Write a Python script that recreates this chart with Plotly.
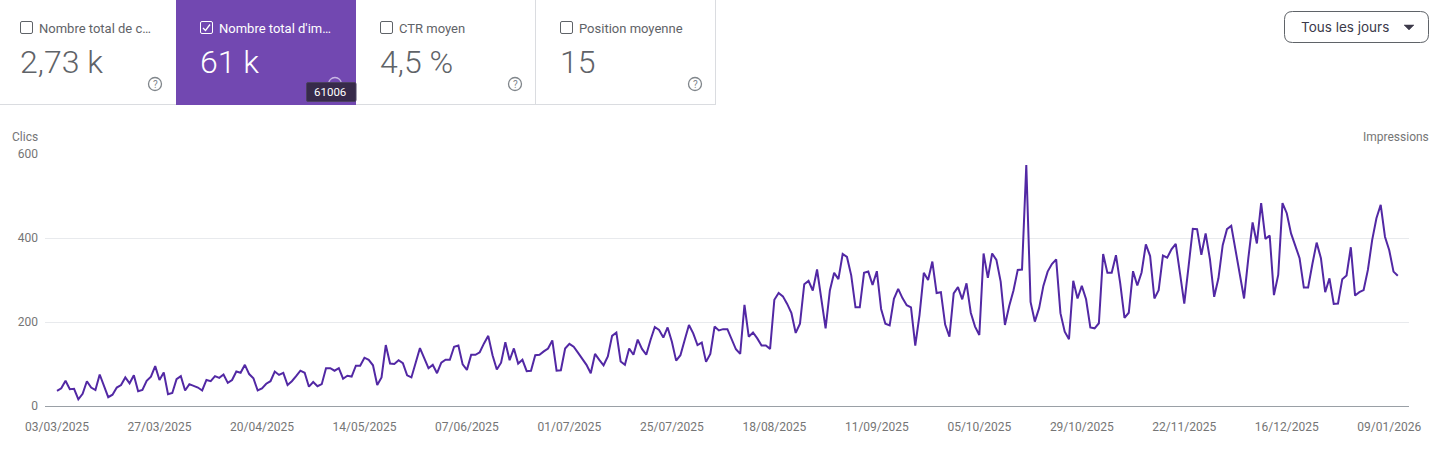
import pandas as pd
import plotly.graph_objects as go

impressions = [
    36, 42, 60, 40, 41, 16, 29, 59, 44, 38, 75, 49, 21, 27, 44, 50, 68, 54, 73, 35,
    38, 60, 70, 95, 62, 80, 28, 31, 64, 71, 37, 52, 48, 44, 37, 62, 59, 71, 67, 75,
    55, 62, 82, 79, 98, 76, 66, 37, 42, 53, 59, 82, 74, 79, 50, 59, 71, 84, 79, 46,
    57, 47, 52, 90, 90, 84, 90, 65, 72, 70, 96, 96, 115, 110, 97, 50, 68, 145, 101, 100,
    109, 102, 73, 68, 103, 138, 114, 90, 98, 78, 103, 110, 110, 141, 144, 99, 86, 122, 122, 128,
    149, 167, 121, 87, 103, 152, 109, 137, 101, 110, 83, 84, 121, 122, 130, 137, 156, 84, 85, 137,
    148, 141, 127, 113, 98, 78, 124, 110, 97, 118, 167, 175, 106, 98, 137, 122, 158, 136, 122, 157,
    188, 181, 163, 187, 153, 108, 121, 157, 193, 173, 145, 151, 105, 124, 189, 180, 183, 183, 157, 135,
    124, 241, 165, 175, 161, 144, 144, 136, 253, 269, 261, 243, 221, 174, 196, 290, 298, 275, 325, 256,
    185, 275, 317, 302, 362, 355, 311, 235, 235, 317, 320, 288, 321, 231, 196, 192, 255, 279, 257, 240,
    235, 144, 217, 317, 300, 344, 269, 271, 194, 165, 268, 283, 254, 292, 222, 189, 169, 363, 305, 363,
    348, 296, 193, 238, 275, 324, 325, 574, 248, 201, 233, 286, 320, 338, 349, 221, 177, 159, 298, 256,
    286, 254, 187, 185, 197, 362, 317, 317, 359, 292, 210, 222, 321, 287, 318, 385, 357, 256, 276, 358,
    353, 373, 386, 316, 244, 332, 422, 421, 360, 411, 350, 260, 304, 383, 421, 429, 371, 308, 256, 352,
    437, 387, 483, 398, 406, 264, 312, 483, 459, 411, 383, 352, 282, 282, 338, 389, 352, 271, 304, 243,
    244, 302, 311, 378, 263, 271, 276, 324, 395, 447, 479, 403, 371, 320, 310,
]
tick_dates = ["2025-03-03", "2025-03-27", "2025-04-20", "2025-05-14", "2025-06-07", "2025-07-01", "2025-07-25",
              "2025-08-18", "2025-09-11", "2025-10-05", "2025-10-29", "2025-11-22", "2025-12-16", "2026-01-09"]
tick_labels = ["03/03/2025", "27/03/2025", "20/04/2025", "14/05/2025", "07/06/2025", "01/07/2025", "25/07/2025",
               "18/08/2025", "11/09/2025", "05/10/2025", "29/10/2025", "22/11/2025", "16/12/2025", "09/01/2026"]
y_ticks = [0, 200, 400, 600]

card_titles = ["Nombre total de c…", "Nombre total d'im…", "CTR moyen", "Position moyenne"]
card_values = ["2,73 k", "61 k", "4,5 %", "15"]

dates = pd.date_range("2025-03-03", periods=len(impressions), freq="D")

GREY = "#5f6368"
TICK = "#757575"
PURPLE = "#7248b1"
LINE = "#5228a4"

# plot area in page pixels, everything around the chart is placed from these
L, R, T, B = 45, 1409, 154, 406


def px(x):
    return (x - L) / (R - L)


def py(y):
    return (B - y) / (B - T)


def rect(x0, y0, x1, y1, fill="rgba(0,0,0,0)", line=None, width=1):
    return dict(type="rect", xref="paper", yref="paper", x0=px(x0), x1=px(x1), y0=py(y0), y1=py(y1),
                fillcolor=fill, line=dict(color=line, width=width if line else 0), layer="above")


def round_rect(x0, y0, x1, y1, r, fill="rgba(0,0,0,0)", line=None, width=1):
    p = (f"M{px(x0 + r)},{py(y0)} L{px(x1 - r)},{py(y0)} Q{px(x1)},{py(y0)} {px(x1)},{py(y0 + r)} "
         f"L{px(x1)},{py(y1 - r)} Q{px(x1)},{py(y1)} {px(x1 - r)},{py(y1)} "
         f"L{px(x0 + r)},{py(y1)} Q{px(x0)},{py(y1)} {px(x0)},{py(y1 - r)} "
         f"L{px(x0)},{py(y0 + r)} Q{px(x0)},{py(y0)} {px(x0 + r)},{py(y0)} Z")
    return dict(type="path", xref="paper", yref="paper", path=p, fillcolor=fill,
                line=dict(color=line, width=width), layer="above")


def poly(points, fill="rgba(0,0,0,0)", line=None, width=1, close=False):
    p = "M" + " L".join(f"{px(x)},{py(y)}" for x, y in points) + (" Z" if close else "")
    return dict(type="path", xref="paper", yref="paper", path=p, fillcolor=fill,
                line=dict(color=line, width=width), layer="above")


def label(x, y, text, size, color=GREY, anchor="left", family="Roboto", weight=400):
    # annotations sit 2px inside their anchor
    shift = {"left": -2, "right": 2, "center": 0}[anchor]
    return dict(xref="paper", yref="paper", x=px(x), y=py(y), text=text, showarrow=False, xanchor=anchor,
                yanchor="middle", xshift=shift, font=dict(size=size, color=color, family=family, weight=weight))


fig = go.Figure()
fig.add_trace(go.Scatter(x=dates, y=impressions, mode="lines", line=dict(color=LINE, width=2), hoverinfo="skip"))

shapes = []
annotations = []

# cards
shapes.append(rect(176, 0, 356, 105, fill=PURPLE))
shapes.append(rect(0, 104, 176, 105, fill="#dadce0"))
shapes.append(rect(356, 104, 716, 105, fill="#dadce0"))
shapes.append(rect(535, 0, 536, 105, fill="#dadce0"))
shapes.append(rect(715, 0, 716, 105, fill="#dadce0"))

card_x = [20, 200, 380, 560]
for i, (title, value) in enumerate(zip(card_titles, card_values)):
    x = card_x[i]
    color = "#ffffff" if i == 1 else GREY
    shapes.append(round_rect(x + 0.5, 21.5, x + 12.5, 33.5, 1.5, line=color))
    annotations.append(label(x + 19, 28, title, 13, color))
    annotations.append(label(x, 62, value, 32, color, weight=300))
    shapes.append(dict(type="circle", xref="paper", yref="paper", x0=px(x + 128.5), x1=px(x + 141.5),
                       y0=py(77.5), y1=py(90.5), line=dict(color="#c9b8e4" if i == 1 else "#80868b", width=1.3),
                       layer="above"))
    if i != 1:
        annotations.append(label(x + 135, 84.5, "?", 10, "#80868b", "center"))
shapes.append(poly([(203, 28), (205.5, 30.5), (210, 24.5)], line="#ffffff", width=1.3))

# tooltip of the selected card
shapes.append(round_rect(306.5, 82.5, 356, 101.5, 1.5, fill="#372a4a", line="#4b4060"))
annotations.append(label(330, 92, "61006", 11.5, "#ffffff", "center"))

# period button
shapes.append(round_rect(1284.5, 11.5, 1428.5, 42.5, 8, fill="#ffffff", line=GREY))
annotations.append(label(1301, 27, "Tous les jours", 13.5, "#3c3a4a", family="Inter"))
shapes.append(poly([(1404, 25), (1414, 25), (1409, 30)], fill="#3c3a4a", line="#3c3a4a", width=0.5, close=True))

# axis titles
annotations.append(label(12, 137, "Clics", 12, TICK))
annotations.append(label(1429, 137, "Impressions", 12, TICK, anchor="right"))

start = pd.Timestamp("2025-03-03")
day_px = 4.27
fig.update_layout(
    width=1442, height=455, autosize=False,
    margin=dict(l=L, r=1442 - R, t=T, b=455 - B, pad=0),
    paper_bgcolor="#ffffff", plot_bgcolor="#ffffff",
    showlegend=False, hovermode=False,
    font=dict(family="Roboto", size=12, color=TICK),
    shapes=shapes, annotations=annotations,
    xaxis=dict(
        type="date",
        range=[start + pd.Timedelta(days=(L - 57) / day_px), start + pd.Timedelta(days=(R - 57) / day_px)],
        tickmode="array", tickvals=tick_dates, ticktext=tick_labels, ticks="", showgrid=False, zeroline=False,
        showline=True, linecolor="#9aa0a6", linewidth=1, tickfont=dict(size=12, color=TICK), ticklabelstandoff=10,
    ),
    yaxis=dict(
        range=[0, 600], tickmode="array", tickvals=y_ticks, ticks="", showgrid=True, gridcolor="#e8eaed",
        gridwidth=1, zeroline=False, showline=False, tickfont=dict(size=12, color=TICK), ticklabelstandoff=6,
    ),
)

fig.write_html("out.html", config=dict(displayModeBar=False),
               post_script="document.body.style.margin='0';")
